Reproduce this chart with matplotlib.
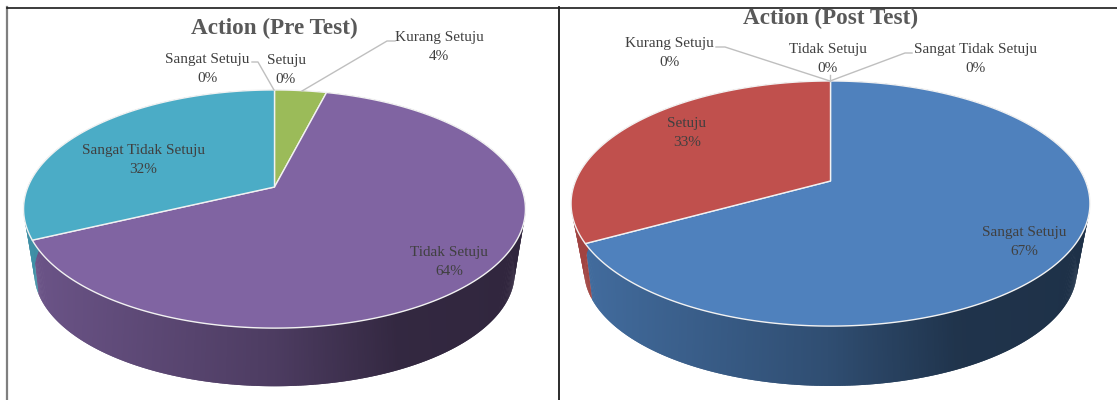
import numpy as np
import matplotlib
matplotlib.use("Agg")
import matplotlib.pyplot as plt
from matplotlib.collections import PolyCollection

plt.rcParams['font.family'] = ['Liberation Serif', 'DejaVu Serif']

"----------------------------------- Data -----------------------------------"

pre_labels = ['Sangat Setuju', 'Setuju', 'Kurang Setuju', 'Tidak Setuju', 'Sangat Tidak Setuju']
pre_values = [0, 0, 4, 64, 32]
post_labels = ['Sangat Setuju', 'Setuju', 'Kurang Setuju', 'Tidak Setuju', 'Sangat Tidak Setuju']
post_values = [67, 33, 0, 0, 0]
colors = ['#4F81BD', '#C0504D', '#9BBB59', '#8064A2', '#4BACC6']

"---------------------------------- Layout ----------------------------------"

# pie geometry in pixels: centre, radii, perspective, bottom plane
pre_geom = dict(cx=274.5, cy=187, rx=246.6, ry=115.0, k=0.185,
                cy_b=243, rx_b=232, ry_b=106, k_b=0.26)
post_geom = dict(cx=830.5, cy=181, rx=255.0, ry=118.4, k=0.184,
                 cy_b=240, rx_b=238, ry_b=108, k_b=0.26)

pre_text = [(207, 69), (286, 70), (439, 47), (449, 262), (143, 160)]
post_text = [(1024, 242), (687, 133), (669.5, 53), (828, 59), (975, 59)]

pre_leaders = [[(274, 90), (258, 62), (252, 62)],
               [(302, 91), (387, 41), (395, 41)]]
post_leaders = [[(830, 81), (725, 47), (716, 47)],
                [(830, 81), (830, 75)],
                [(830, 81), (905, 53), (912, 53)]]


def top_point(g, t):
    # t is clockwise from twelve o'clock
    u, v = np.sin(t), np.cos(t)
    w = 1 + g['k'] * v
    return g['cx'] + g['rx'] * u / w, g['cy'] - g['ry'] * v / w


def bottom_point(g, t):
    u, v = np.sin(t), np.cos(t)
    w = 1 + g['k_b'] * v
    return g['cx'] + g['rx_b'] * u / w, g['cy_b'] - g['ry_b'] * v / w


def shade(color, frac):
    # side wall gets darker from left to right, flat after 3/4 of the width
    rgb = np.array(matplotlib.colors.to_rgb(color))
    f = np.interp(frac, [0, 0.5, 0.75, 1], [0.84, 0.6, 0.4, 0.38])
    return tuple(rgb * f)


def draw_pie(ax, values, g):
    edges = np.concatenate([[0], np.cumsum(values)]) / sum(values) * 2 * np.pi
    # side wall first, the top covers whatever is behind it
    for i in range(len(values)):
        if values[i] == 0:
            continue
        t = np.linspace(edges[i], edges[i + 1], max(int(values[i] * 8), 4))
        xt, yt = top_point(g, t)
        xb, yb = bottom_point(g, t)
        quads = []
        cols = []
        for j in range(len(t) - 1):
            # each quad reaches over the next one so no seams show
            n = min(j + 2, len(t) - 1)
            quads.append([(xt[j], yt[j]), (xt[j + 1], yt[j + 1]), (xt[n], yt[n]),
                          (xb[n], yb[n]), (xb[j + 1], yb[j + 1]), (xb[j], yb[j])])
            frac = (xt[j] - (g['cx'] - g['rx'])) / (2 * g['rx'])
            cols.append(shade(colors[i], frac))
        ax.add_collection(PolyCollection(quads, facecolors=cols, edgecolors='none',
                                         zorder=2))
    for i in range(len(values)):
        if values[i] == 0:
            continue
        t = np.linspace(edges[i], edges[i + 1], max(int(values[i] * 6), 8))
        x, y = top_point(g, t)
        x = np.concatenate([[g['cx']], x])
        y = np.concatenate([[g['cy']], y])
        ax.fill(x, y, facecolor=colors[i], edgecolor='#F2F2F2', linewidth=1.0,
                joinstyle='round', zorder=3)


fig = plt.figure(figsize=(11.17, 4), dpi=100)
ax = fig.add_axes([0, 0, 1, 1])
ax.set_xlim(0, 1117)
ax.set_ylim(400, 0)
ax.axis('off')

draw_pie(ax, pre_values, pre_geom)
draw_pie(ax, post_values, post_geom)

for line in pre_leaders + post_leaders:
    ax.plot([p[0] for p in line], [p[1] for p in line], color='#BFBFBF', lw=1.0, zorder=4)

for labels, values, spots in [(pre_labels, pre_values, pre_text),
                              (post_labels, post_values, post_text)]:
    for lab, val, (x, y) in zip(labels, values, spots):
        ax.text(x, y, f"{lab}\n{val}%", ha='center', va='center', fontsize=11,
                color='#404040', linespacing=1.52, zorder=5)

ax.text(274.5, 28, 'Action (Pre Test)', ha='center', va='center', fontsize=16.7,
        fontweight='bold', color='#595959')
ax.text(831, 18, 'Action (Post Test)', ha='center', va='center', fontsize=16.7,
        fontweight='bold', color='#595959')

# table borders
ax.plot([7, 7], [7, 400], color='#7F7F7F', lw=1.6)
ax.plot([7, 1117], [7.5, 7.5], color='#1A1A1A', lw=1.2)
ax.plot([558.5, 558.5], [7, 400], color='#1A1A1A', lw=1.3)

fig.savefig('out.png', dpi=100)
